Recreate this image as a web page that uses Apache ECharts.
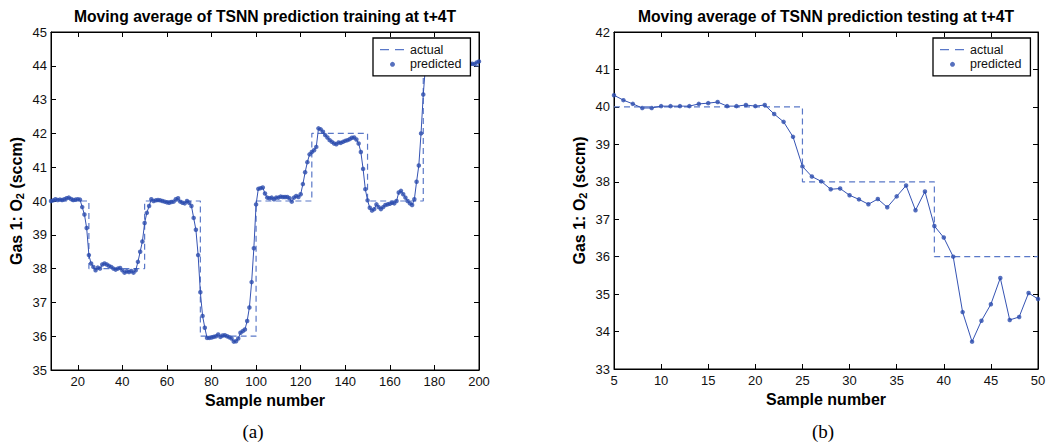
<!DOCTYPE html>
<html><head><meta charset="utf-8">
<script src="https://cdn.jsdelivr.net/npm/echarts@6/dist/echarts.min.js"></script>
<style>html,body{margin:0;padding:0;background:#fff}#c{width:1057px;height:446px}</style>
</head><body><div id="c"></div>
<script>
// ---- Data: chart (a) training ----
const trainSampleStart = 8;
const trainPredicted = [
  40.0, 40.02, 40.05, 40.03, 40.04, 40.03, 40.05, 40.08, 40.1, 40.06,
  40.03, 40.04, 40.05, 40.04, 39.82, 39.6, 39.2, 38.4, 38.15, 38.05,
  37.95, 38.03, 38.0, 38.12, 38.15, 38.12, 38.08, 38.05, 38.0, 37.97,
  38.0, 38.02, 37.95, 37.88, 37.92, 37.9, 37.93, 37.88, 37.95, 38.2,
  38.5, 38.8, 39.35, 39.65, 39.85, 40.05, 40.0, 40.02, 40.03, 40.02,
  40.0, 39.98, 39.96, 39.95, 39.97, 39.98, 40.05, 40.08, 39.98, 39.95,
  39.93, 40.0, 39.95, 39.85, 39.5, 39.15, 38.4, 37.3, 36.6, 36.25,
  35.95, 35.95, 35.96, 35.98, 36.0, 36.05, 35.98, 36.02, 36.03, 36.0,
  35.97, 35.93, 35.84, 35.85, 35.93, 36.1, 36.15, 36.2, 36.45, 36.85,
  37.6, 38.6, 39.9, 40.36, 40.38, 40.4, 40.22, 40.1, 40.08, 40.1,
  40.05, 40.1, 40.1, 40.13, 40.12, 40.12, 40.12, 40.08, 39.98, 40.1,
  40.15, 40.12, 40.2, 40.5, 40.85, 41.15, 41.38, 41.45, 41.5, 41.6,
  42.15, 42.12, 42.05, 41.95, 41.88, 41.8, 41.75, 41.7, 41.68, 41.73,
  41.72, 41.75, 41.78, 41.8, 41.83, 41.87, 41.88, 41.82, 41.7, 41.45,
  40.95, 40.35, 40.02, 39.8, 39.72, 39.76, 39.9, 39.82, 39.76, 39.82,
  39.88, 39.9, 39.92, 39.95, 39.93, 40.0, 40.25, 40.3, 40.2, 40.1,
  40.0, 39.93, 39.88, 40.05, 40.57, 41.05, 42.0, 43.15, 44.0, 44.08,
  44.1, 44.05, 44.08, 44.12, 44.1, 44.06, 44.09, 44.11, 44.08, 44.05,
  44.07, 44.1, 44.12, 44.09, 44.06, 44.08, 44.1, 44.07, 44.05, 44.06,
  44.05, 44.1, 44.13
];
const trainActualLevels = [40, 38, 40, 36, 40, 42, 40, 44];
const trainActualBreaks = [8, 25, 50, 75, 100, 125, 150, 175, 200];
const trainXTicks = [20, 40, 60, 80, 100, 120, 140, 160, 180, 200];

// ---- Data: chart (b) testing ----
const testSampleStart = 5;
const testPredicted = [
  40.31, 40.18, 40.08, 39.97, 39.97, 40.02, 40.02, 40.02, 40.02, 40.08,
  40.1, 40.13, 40.02, 40.02, 40.05, 40.02, 40.05, 39.81, 39.6, 39.2,
  38.41, 38.14, 38.01, 37.8, 37.82, 37.64, 37.53, 37.4, 37.54, 37.32,
  37.61, 37.9, 37.24, 37.74, 36.82, 36.51, 36.0, 34.52, 33.73, 34.29,
  34.73, 35.43, 34.31, 34.39, 35.03, 34.87
];
const testActualLevels = [40, 38, 36];
const testActualBreaks = [5, 25, 39, 50];

const titles = ['Moving average of TSNN prediction training at t+4T', 'Moving average of TSNN prediction testing at t+4T'];
const captions = ['(a)', '(b)'];
const xName = 'Sample number';
const yName = 'Gas 1: O{s|2} (sccm)';

// ---- build ----
function pairs(start, vals) { return vals.map((v, i) => [start + i, v]); }
function steps(levels, breaks) {
  const out = [];
  levels.forEach((lv, i) => { out.push([breaks[i], lv]); out.push([breaks[i + 1], lv]); });
  return out;
}
const FONT = "'Liberation Sans', Arial, Helvetica, sans-serif";
const DASH = '#5a78c8', LINE = '#3553b3', DOT = '#2c4cae';
// legend glyph: two short dashes (invisible move-to points fix the 25x5 box)
const DASH_ICON = 'path://M0,-2M25,3M0,0H9V1.3H0ZM15,0H24V1.3H15Z';

function xAx(grid, min, max, pos, opts) {
  const a = {
    gridIndex: grid, type: 'value', min: min, max: max, position: pos,
    axisLine: { show: true, onZero: false, lineStyle: { color: '#000', width: 1 } },
    axisTick: { show: true, inside: true, length: 5, lineStyle: { color: '#000' } },
    axisLabel: { show: pos === 'bottom', margin: 5, color: '#111', fontSize: 13, fontFamily: FONT },
    splitLine: { show: false }
  };
  if (opts.interval) a.interval = opts.interval;
  if (opts.ticks) { a.axisTick.customValues = opts.ticks; a.axisLabel.customValues = opts.ticks; }
  if (pos === 'bottom') {
    a.name = xName; a.nameLocation = 'middle'; a.nameGap = 20;
    a.nameTextStyle = { fontSize: 16, fontWeight: 'bold', fontFamily: FONT, color: '#000' };
  }
  return a;
}
function yAx(grid, min, max, pos) {
  const a = {
    gridIndex: grid, type: 'value', min: min, max: max, interval: 1, position: pos,
    axisLine: { show: true, onZero: false, lineStyle: { color: '#000', width: 1 } },
    axisTick: { show: true, inside: true, length: 5, lineStyle: { color: '#000' } },
    axisLabel: { show: pos === 'left', margin: 4, color: '#111', fontSize: 13, fontFamily: FONT },
    splitLine: { show: false }
  };
  if (pos === 'left') {
    a.name = yName; a.nameLocation = 'middle'; a.nameGap = 26; a.nameRotate = 90;
    a.nameTextStyle = { fontSize: 16, fontWeight: 'bold', fontFamily: FONT, color: '#000',
      rich: { s: { fontSize: 11, fontWeight: 'bold', fontFamily: FONT, color: '#000', padding: [7, 0, 0, 0] } } };
  }
  return a;
}
function legend(left) {
  return {
    left: left, top: 38, orient: 'vertical', z: 20,
    data: [{ name: 'actual', icon: DASH_ICON, itemStyle: { color: DASH } }, { name: 'predicted', icon: 'circle' }],
    padding: [5, 9, 5, 7], itemWidth: 25, itemHeight: 5, itemGap: 1.8,
    backgroundColor: '#fff', borderColor: '#000', borderWidth: 1.3, borderRadius: 0,
    textStyle: { fontSize: 12.5, fontFamily: FONT, color: '#111' },
    selectedMode: false
  };
}

const chart = echarts.init(document.getElementById('c'), null, { renderer: 'svg' });
chart.setOption({
  animation: false,
  backgroundColor: '#fff',
  title: [
    { text: titles[0], left: 265, top: 8, textAlign: 'center', padding: 0, textStyle: { fontSize: 15.7, fontWeight: 'bold', fontFamily: FONT, color: '#000' } },
    { text: titles[1], left: 826, top: 8, textAlign: 'center', padding: 0, textStyle: { fontSize: 15.7, fontWeight: 'bold', fontFamily: FONT, color: '#000' } },
    { text: captions[0], left: 253, top: 422, textAlign: 'center', padding: 0, textStyle: { fontSize: 19, fontWeight: 'normal', fontFamily: "'Liberation Serif', 'Times New Roman', serif", color: '#000' } },
    { text: captions[1], left: 823, top: 422, textAlign: 'center', padding: 0, textStyle: { fontSize: 19, fontWeight: 'normal', fontFamily: "'Liberation Serif', 'Times New Roman', serif", color: '#000' } }
  ],
  legend: [legend(373), legend(933)],
  grid: [
    { left: 51, right: 578, top: 32, bottom: 76, show: true, borderColor: '#000', borderWidth: 1, backgroundColor: '#fff' },
    { left: 614, right: 19, top: 32, bottom: 77, show: true, borderColor: '#000', borderWidth: 1, backgroundColor: '#fff' }
  ],
  xAxis: [
    xAx(0, 8, 200, 'bottom', { ticks: trainXTicks }),
    xAx(0, 8, 200, 'top', { ticks: trainXTicks }),
    xAx(1, 5, 50, 'bottom', { interval: 5 }),
    xAx(1, 5, 50, 'top', { interval: 5 })
  ],
  yAxis: [
    yAx(0, 35, 45, 'left'),
    yAx(0, 35, 45, 'right'),
    yAx(1, 33, 42, 'left'),
    yAx(1, 33, 42, 'right')
  ],
  series: [
    { name: 'actual', type: 'line', xAxisIndex: 0, yAxisIndex: 0, data: steps(trainActualLevels, trainActualBreaks),
      symbol: 'none', color: DASH, lineStyle: { color: DASH, width: 1.2, type: [6, 4] }, z: 2 },
    { name: 'predicted-line', type: 'line', xAxisIndex: 0, yAxisIndex: 0, data: pairs(trainSampleStart, trainPredicted),
      symbol: 'none', color: LINE, lineStyle: { color: LINE, width: 1 }, z: 3 },
    { name: 'predicted', type: 'scatter', xAxisIndex: 0, yAxisIndex: 0, data: pairs(trainSampleStart, trainPredicted),
      symbol: 'circle', symbolSize: 4.5, itemStyle: { color: DOT }, z: 3 },
    { name: 'actual', type: 'line', xAxisIndex: 2, yAxisIndex: 2, data: steps(testActualLevels, testActualBreaks),
      symbol: 'none', color: DASH, lineStyle: { color: DASH, width: 1.2, type: [6, 4] }, z: 2 },
    { name: 'predicted-line', type: 'line', xAxisIndex: 2, yAxisIndex: 2, data: pairs(testSampleStart, testPredicted),
      symbol: 'none', color: LINE, lineStyle: { color: LINE, width: 1 }, z: 3 },
    { name: 'predicted', type: 'scatter', xAxisIndex: 2, yAxisIndex: 2, data: pairs(testSampleStart, testPredicted),
      symbol: 'circle', symbolSize: 4.5, itemStyle: { color: DOT }, z: 3 }
  ]
});
</script>
</body></html>
